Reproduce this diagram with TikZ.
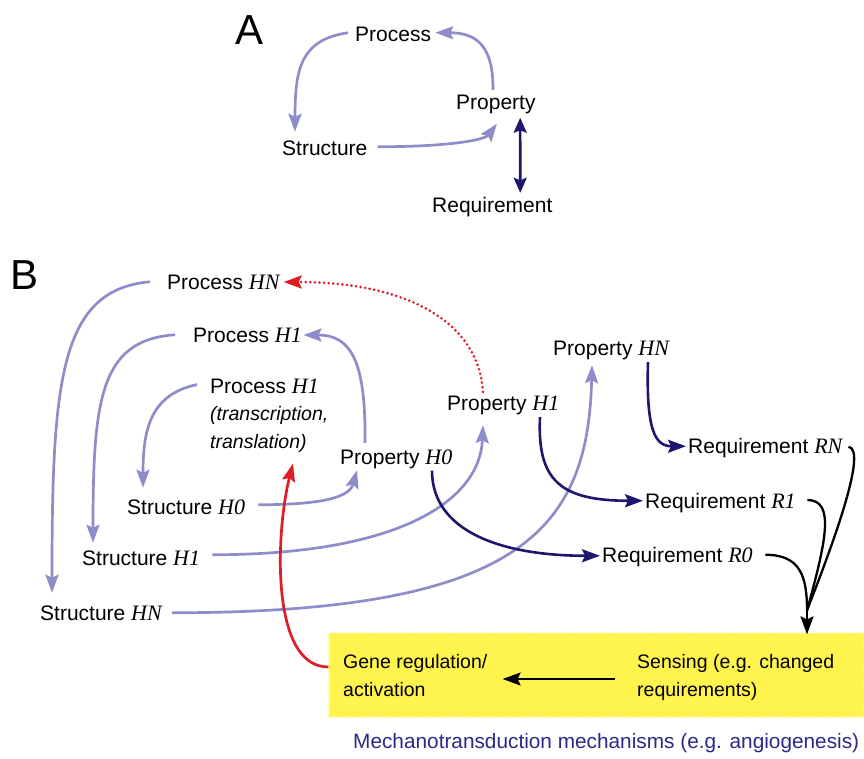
\documentclass[tikz,border=0pt]{standalone}
\usepackage{fontspec}
\setmainfont{Liberation Sans}
\newfontfamily\tms{Liberation Serif}
\usetikzlibrary{arrows.meta}
\newcommand\hv[1]{{\fontsize{22}{26}\tms\itshape #1}}
\definecolor{lavc}{RGB}{143,141,201}
\definecolor{navc}{RGB}{30,22,110}
\definecolor{redc}{RGB}{222,30,36}
\definecolor{yelc}{RGB}{255,243,77}
\definecolor{mechc}{RGB}{45,40,135}
\begin{document}
\begin{tikzpicture}[x=1pt,y=-1pt,
  lab/.style={font=\fontsize{21}{25}\selectfont, inner sep=0pt, anchor=base west, text height=15pt, text depth=4.5pt},
  mlab/.style={inner sep=0pt, anchor=base west},
  tip/.style={-{Stealth[length=18pt,width=13pt,inset=3pt]}},
  lav/.style={draw=lavc, line width=2.7pt, tip},
  nav/.style={draw=navc, line width=2.6pt, tip},
  navdbl/.style={draw=navc, line width=2.6pt, {Stealth[length=15pt,width=13pt,inset=2.5pt]}-{Stealth[length=15pt,width=13pt,inset=2.5pt]}},
  blk/.style={draw=black, line width=2.3pt},
  blkarr/.style={blk, -{Stealth[length=18pt,width=13pt,inset=3pt]}},
  redarr/.style={draw=redc, line width=2.7pt, tip},
  reddot/.style={redarr, line width=2.9pt, line cap=round, dash pattern=on 0pt off 4.6pt},
  boxst/.style={fill=yelc, draw=yelc!55!white, dash pattern=on 2.5pt off 2.5pt, line width=1.2pt, minimum width=535pt, minimum height=84pt, inner sep=0pt}
]
\useasboundingbox (0,0) rectangle (864,758);

% ---------- Panel A ----------
\node[lab, font=\fontsize{42}{46}\selectfont, text height=30pt] (labA) at (235,44) {A};
\node[lab] (procA) at (355,41) {Process};
\node[lab] (propA) at (456,109) {Property};
\node[lab] (strA) at (282,155) {Structure};
\node[lab] (reqA) at (432,212) {Requirement};

\draw[lav] ([shift={(-3,-4)}]propA.north) .. controls +(1,-50) and +(35,0) .. ([shift={(4,-3)}]procA.east);
\draw[lav] ([shift={(-7,-3)}]procA.west) .. controls +(-48,7) and +(0,-62) .. ([shift={(13,-8)}]strA.north west);
\draw[lav] ([shift={(10,-3)}]strA.east) .. controls +(73,0) and +(-12,16) .. ([shift={(1,10)}]propA.south);
\draw[navdbl] ([shift={(24.3,4)}]propA.south) -- ([shift={(27.9,-4)}]reqA.north);

% ---------- Panel B ----------
\node[lab, font=\fontsize{42}{46}\selectfont, text height=30pt] (labB) at (10,289) {B};

\node[boxst] (box) at (596.5,675) {};

\node[lab] (pHN) at (167,289) {Process \hv{HN}};
\node[lab] (pH1) at (193,342) {Process \hv{H1}};
\node[mlab, font=\fontsize{19.5}{27.5}\selectfont] (pT) at (210,393)
  {\begin{tabular}[t]{@{}l@{}}{\fontsize{21}{25}\selectfont Process \hv{H1}}\\ \itshape (transcription,\\ \itshape translation)\end{tabular}};
\node[lab] (pH0) at (340,464) {Property \hv{H0}};
\node[lab] (sH0) at (127,514) {Structure \hv{H0}};
\node[lab] (sH1) at (82,565) {Structure \hv{H1}};
\node[lab] (sHN) at (40,620) {Structure \hv{HN}};
\node[lab] (prH1) at (447,410) {Property \hv{H1}};
\node[lab] (prHN) at (553,355) {Property \hv{HN}};
\node[lab] (rRN) at (688,453) {Requirement \hv{RN}};
\node[lab] (rR1) at (645,508) {Requirement \hv{R1}};
\node[lab] (rR0) at (602,562) {Requirement \hv{R0}};

\node[mlab, font=\fontsize{19.5}{28}\selectfont] (gene) at (343,668)
  {\begin{tabular}[t]{@{}l@{}}Gene regulation/\\activation\end{tabular}};
\node[mlab, font=\fontsize{19.5}{28}\selectfont] (sens) at (637,668)
  {\begin{tabular}[t]{@{}l@{}}Sensing (e.g. changed\\requirements)\end{tabular}};
\node[lab, font=\fontsize{20.8}{25}\selectfont, text=mechc] (mech) at (353,748) {Mechanotransduction mechanisms (e.g. angiogenesis)};

% light (lavender) connectors
\draw[lav] ([shift={(-17,-2)}]pHN.west) .. controls +(-90,8) and +(0,-213) .. ([shift={(12,-12)}]sHN.north west);
\draw[lav] ([shift={(-18,-2)}]pH1.west) .. controls +(-75,5) and +(0,-143) .. ([shift={(11,-7)}]sH1.north west);
\draw[lav] ([shift={(-13,11)}]pT.north west) .. controls +(-47,10) and +(0,-58) .. ([shift={(16,-11)}]sH0.north west);
\draw[lav] ([shift={(13,-4)}]sH0.east) .. controls +(72,0) and +(-7,25) .. ([shift={(17,1.5)}]pH0.south west);
\draw[lav] ([shift={(25,-6)}]pH0.north west) .. controls +(1,-83) and +(47,0) .. ([shift={(1.5,-1.75)}]pH1.east);
\draw[lav] ([shift={(12,-5)}]sH1.east) .. controls +(188,0) and +(-3,75) .. ([shift={(36,10.5)}]prH1.south west);
\draw[lav] ([shift={(10,-2)}]sHN.east) .. controls +(348,0) and +(-4,165) .. ([shift={(39,5.5)}]prHN.south west);

% navy connectors
\draw[nav] ([shift={(92,2)}]pH0.south west) .. controls +(0,60) and +(-100,0) .. ([shift={(-2,-1)}]rR0.west);
\draw[nav] ([shift={(93,2.5)}]prH1.south west) .. controls +(-3,63) and +(-83,0) .. ([shift={(-2,-2)}]rR1.west);
\draw[nav] ([shift={(95,2.5)}]prHN.south west) .. controls +(-2,68) and +(-31,0) .. ([shift={(-2,-1.5)}]rRN.west);

% red connectors
\draw[reddot] ([shift={(36,-3)}]prH1.north west) .. controls +(-5,-74) and +(117,0) .. ([shift={(4,-1.75)}]pHN.east);
\draw[redarr] ([shift={(0,-8)}]box.west) .. controls +(-59,0) and +(-17,67) .. ([shift={(83,7)}]pT.south west);

% black connectors
\coordinate (mrg) at ([shift={(210.5,-22)}]box.north);
\draw[blk] ([shift={(12.5,-2)}]rR0.east) .. controls +(35,0) and +(0,-34) .. (mrg);
\draw[blk] ([shift={(11.5,-2.75)}]rR1.east) .. controls +(28,0) and +(19,-69) .. (mrg);
\draw[blk] ([shift={(6,-1)}]rRN.east) .. controls +(20,3) and +(23,-59) .. (mrg);
\draw[blkarr] (mrg) -- ([shift={(210.5,2)}]box.north);
\draw[blkarr] ([shift={(-22,2.6)}]sens.west) -- ([shift={(15,2.6)}]gene.east);
\end{tikzpicture}
\end{document}
